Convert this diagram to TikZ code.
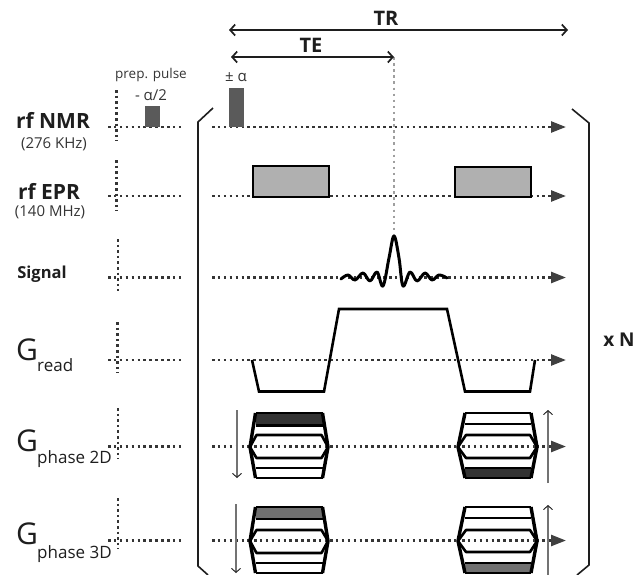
\documentclass[tikz,border=0pt]{standalone}
\usepackage{fontspec}
\setmainfont{Open Sans}
\usetikzlibrary{arrows.meta}
\definecolor{ink}{HTML}{1E1E1E}
\definecolor{pulse}{HTML}{5A5A5A}
\definecolor{eprfill}{HTML}{B0B0B0}
\definecolor{dark2d}{HTML}{333333}
\definecolor{grey3d}{HTML}{707070}
\tikzset{
  x=1pt,y=-1pt,
  axisline/.style={line width=2.5pt,dash pattern=on 2.5pt off 3.4pt,draw=ink!90},
  tipline/.style={axisline,-{Triangle[length=15pt,width=11pt,color=ink!85]}},
  vline/.style={line width=2.5pt,dash pattern=on 2.5pt off 3.1pt,draw=ink!90},
  greydots/.style={line width=2.5pt,dash pattern=on 2.5pt off 3.6pt,draw=gray!75},
  timing/.style={line width=1.8pt,draw=ink,{Straight Barb[length=5pt,width=11pt,line width=1.7pt]}-{Straight Barb[length=5pt,width=11pt,line width=1.7pt]}},
  bracket/.style={line width=1.6pt,draw=ink,line join=miter},
  wave/.style={line width=2.6pt,draw=black,line join=miter},
  sigwave/.style={line width=3pt,draw=black,line cap=round,line join=round},
  rfbox/.style={draw=black,line width=1.8pt,fill=eprfill,inner sep=0pt,anchor=north west},
  pulsebox/.style={fill=pulse,draw=none,inner sep=0pt,anchor=south west},
  lobe/.style={draw=black,line width=2.6pt,line join=round},
  edge2/.style={draw=black,line width=3.4pt,line join=round},
  step arrow/.style={draw=gray!90!black,line width=1.1pt,-{Straight Barb[length=4pt,width=9pt,line width=.9pt,color=ink]}},
  ttl/.style={font=\fontsize{21}{23}\selectfont\bfseries,inner sep=0pt,text=ink},
  timelbl/.style={font=\fontsize{20}{22}\selectfont\bfseries,inner sep=0pt,text=ink},
  small/.style={font=\fontsize{13.5}{15}\selectfont,inner sep=0pt,text=ink!90},
  sub/.style={font=\fontsize{15}{17}\selectfont,inner sep=0pt,text=ink!90},
  gmain/.style={font=\fontsize{30}{32}\selectfont,inner sep=0pt,text=ink,anchor=base west},
  gsub/.style={font=\fontsize{17}{19}\selectfont,inner sep=0pt,text=ink,anchor=base west},
}
\newcommand{\phaseblock}[9]{%
 \path[fill=white] (#2,#5) -- (#3,#5) -- (#4,\ymid) -- (#3,\ybot) -- (#2,\ybot) -- (#1,\ymid) -- cycle;
 \fill[\shadecol] (#2,\shadea) rectangle (#3,\shadeb);
 \draw[lobe] (#2,#5) -- (#3,#5);
 \draw[lobe] (#2,#6) -- (#3,#6);
 \draw[lobe] (#2,#9) -- (#3,#9);
 \draw[lobe] (#2,\ybot) -- (#3,\ybot);
 \draw[lobe] (#1,\ymid) -- (#2+1,#7) -- (#3-1,#7) -- (#4,\ymid) -- (#3-1,#8) -- (#2+1,#8) -- cycle;
 \draw[edge2] (#2,#5) -- (#1,\ymid) -- (#2,\ybot);
 \draw[edge2] (#3,#5) -- (#4,\ymid) -- (#3,\ybot);
}
\begin{document}
\begin{tikzpicture}
\useasboundingbox[fill=white] (0,0) rectangle (638,574);
% ---------- named axis coordinates
\foreach \nm/\yy in {nmr/127,epr/196,sig/277.5,read/360,ptwo/446.5,pthree/540.5}{
  \coordinate (\nm L) at (108,\yy);
  \coordinate (\nm M) at (182,\yy);
  \coordinate (\nm S) at (212,\yy);
  \coordinate (\nm E) at (566,\yy);
}
% ---------- pre-sequence axes
\foreach \nm in {nmr,epr,sig,read,ptwo,pthree} \draw[axisline] (\nm L) -- (\nm M);
\foreach \xx/\a/\b in {116.5/90/141,116.5/160/211,118/239/291,117.5/322/373,118/408/459,118/498/549}{
  \coordinate (va) at (\xx,\a); \coordinate (vb) at (\xx,\b);
  \draw[vline] (va) -- (vb);
}
% ---------- TE grey line
\coordinate (teEnd) at (394,57);
\coordinate (peak) at (394,234);
\draw[greydots] (teEnd) -- (peak);
% ---------- main axes
\foreach \nm in {nmr,epr,sig,read,ptwo,pthree} \draw[tipline] (\nm S) -- (\nm E);
% ---------- timing
\coordinate (trA) at (229,30); \coordinate (trB) at (568,30);
\coordinate (teA) at (231,57);
\draw[timing] (trA) -- (trB);
\draw[timing] (teA) -- (teEnd);
\node[timelbl] (tr) at (386,18) {TR};
\node[timelbl] (te) at (311,45) {TE};
% ---------- rf pulses
\node[pulsebox,minimum width=15pt,minimum height=21pt] (prep) at (145,127) {};
\node[pulsebox,minimum width=15pt,minimum height=39pt] (alpha) at (229,127) {};
\node[rfbox,minimum width=76pt,minimum height=31pt] (eprA) at (252,165) {};
\node[rfbox,minimum width=76pt,minimum height=30pt] (eprB) at (454,166) {};
\node[small] (prept) at (151,75) {prep. pulse};
\node[small,font=\fontsize{15}{17}\selectfont] (prepb) at (151,95) {- α/2};
\node[small,font=\fontsize{15}{17}\selectfont] (alphat) at (236,77) {± α};
% ---------- signal
\draw[sigwave] plot[smooth,tension=.6] coordinates {(341,279) (348,275) (355,280) (363,273) (370,281) (377,272) (383,286) (389,258) (394,236) (399,258) (403,286) (410,272) (417,281) (425,273) (432,280) (439,275) (447,278)};
% ---------- G read
\draw[wave] (252,360) -- (259,391.5) -- (324,391.5) -- (339,309) -- (447,309) -- (465,391.5) -- (530,391.5) -- (535,360);
% ---------- phase blocks
\def\ymid{447}\def\ybot{478}
\def\shadecol{dark2d}\def\shadea{413}\def\shadeb{425}
\phaseblock{250}{255.5}{322.5}{328}{413}{425.5}{435}{458}{468}
\def\shadea{468}\def\shadeb{478}
\phaseblock{458}{465}{531}{537}{413}{424}{435}{458}{468}
\def\ymid{541}\def\ybot{573}
\def\shadecol{grey3d}\def\shadea{507}\def\shadeb{519}
\phaseblock{250}{255.5}{322.5}{328}{507}{519}{530}{553}{563}
\def\shadea{563}\def\shadeb{573}
\phaseblock{458}{465}{531}{537}{507}{518}{530}{552}{563}
% dotted axis over the blocks
\foreach \yy in {446.5,540.5}{
  \coordinate (oa) at (254,\yy); \coordinate (ob) at (326,\yy);
  \coordinate (oc) at (462,\yy); \coordinate (od) at (535,\yy);
  \draw[axisline] (oa) -- (ob);
  \draw[axisline] (oc) -- (od);
}
% ---------- step arrows
\foreach \n/\x/\ya/\yb in {a/237/410/478,b/236/504/573,c/548/483/410,d/548/575/505}{
  \coordinate (s\n a) at (\x,\ya); \coordinate (s\n b) at (\x,\yb);
  \draw[step arrow] (s\n a) -- (s\n b);
}
% ---------- brackets
\coordinate (bl1) at (213,108); \coordinate (bl2) at (198,122); \coordinate (bl3) at (198,566); \coordinate (bl4) at (208,575);
\coordinate (br1) at (572,109); \coordinate (br2) at (589,123); \coordinate (br3) at (589,565); \coordinate (br4) at (577,575);
\draw[bracket] (bl1) -- (bl2) -- (bl3) -- (bl4);
\draw[bracket] (br1) -- (br2) -- (br3) -- (br4);
% ---------- labels
\node[ttl] (lnmr) at (53,120) {rf NMR};
\node[sub] (lnmrs) at (54,144) {(276 KHz)};
\node[ttl] (lepr) at (49,191) {rf EPR};
\node[sub] (leprs) at (50,212) {(140 MHz)};
\node[font=\fontsize{16.5}{18}\selectfont\bfseries,inner sep=0pt,text=ink] (lsig) at (42,274) {Signal};
\node[gmain] (g1) at (16,360) {G};
\node[gsub] (g1s) at (37,371) {read};
\node[gmain] (g2) at (16,451) {G};
\node[gsub] (g2s) at (37,463) {phase 2D};
\node[gmain] (g3) at (16,544) {G};
\node[gsub] (g3s) at (37,558) {phase 3D};
\node[font=\fontsize{19}{21}\selectfont\bfseries,inner sep=0pt,text=ink] (xn) at (619,340) {x N};
\end{tikzpicture}
\end{document}
